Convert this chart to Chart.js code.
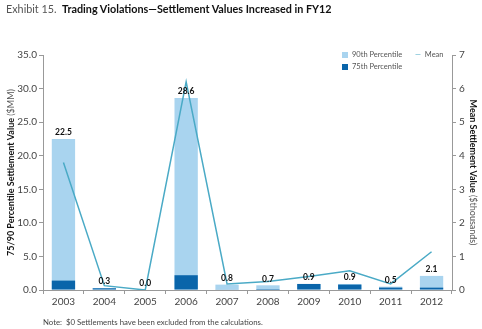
<!DOCTYPE html>
<html>
<head>
<meta charset="utf-8">
<script src="https://cdn.jsdelivr.net/npm/chart.js@4"></script>
<style>
  body { margin: 0; background: #fff; font-family: Lato, "Open Sans", sans-serif; }
  #wrap { position: relative; width: 482px; height: 329px; }
  #titulo { position: absolute; left: 6px; top: 2px; font-size: 10.8px; color: #555; white-space: nowrap; }
  #titulo b { color: #111; }
  .leg { position: absolute; font-size: 7.5px; color: #555; white-space: nowrap; line-height: 8px; }
  .sq { display: inline-block; width: 6px; height: 6px; vertical-align: -1px; margin-right: 4px; }
  #nota { position: absolute; left: 43px; top: 317px; font-size: 7.8px; color: #444; white-space: nowrap; }
</style>
</head>
<body>
<div id="wrap">
  <canvas id="grafico" width="482" height="329"></canvas>
  <div id="titulo">Exhibit 15.&nbsp; <b>Trading Violations—Settlement Values Increased in FY12</b></div>
  <div class="leg" style="left:342px;top:51px"><span class="sq" style="background:#a9d4ef"></span>90th Percentile</div>
  <div class="leg" style="left:415px;top:51px"><span style="color:#4aaac6">—</span>&nbsp; Mean</div>
  <div class="leg" style="left:342px;top:63px"><span class="sq" style="background:#0a65aa"></span>75th Percentile</div>
  <div id="nota">Note:&nbsp; $0 Settlements have been excluded from the calculations.</div>
</div>
<script>
// dados
const anos = ['2003', '2004', '2005', '2006', '2007', '2008', '2009', '2010', '2011', '2012'];
const percentil90 = [22.5, 0.3, 0.0, 28.6, 0.8, 0.7, 0.9, 0.9, 0.5, 2.1];
const percentil75 = [1.4, 0.25, 0.0, 2.2, 0.1, 0.15, 0.9, 0.8, 0.35, 0.35];
const media = [3.8, 0.13, 0.0, 6.2, 0.18, 0.25, 0.4, 0.57, 0.18, 1.14];

const corClaro = '#a9d4ef';
const corEscuro = '#0a65aa';
const corLinha = '#4aaac6';
const fonte = 'Lato, "Open Sans", sans-serif';

// desenha título rotacionado com parte em negrito
function tituloEixo(ctx, x, y, ang, negrito, normal) {
  ctx.save();
  ctx.translate(x, y);
  ctx.rotate(ang);
  ctx.textBaseline = 'middle';
  ctx.textAlign = 'left';
  ctx.font = 'bold 9px ' + fonte;
  const w1 = ctx.measureText(negrito).width;
  ctx.font = '9px ' + fonte;
  const w2 = ctx.measureText(normal).width;
  const x0 = -(w1 + w2) / 2;
  ctx.font = 'bold 9px ' + fonte;
  ctx.fillStyle = '#111';
  ctx.fillText(negrito, x0, 0);
  ctx.font = '9px ' + fonte;
  ctx.fillStyle = '#555';
  ctx.fillText(normal, x0 + w1, 0);
  ctx.restore();
}

// rótulos em cima das barras e títulos dos eixos
const pluginTextos = {
  id: 'textos',
  afterDatasetsDraw(chart) {
    const ctx = chart.ctx;
    const meta = chart.getDatasetMeta(2);
    ctx.save();
    ctx.font = 'bold 8.5px ' + fonte;
    ctx.fillStyle = '#111';
    ctx.textAlign = 'center';
    ctx.textBaseline = 'bottom';
    meta.data.forEach((bar, i) => {
      ctx.fillText(percentil90[i].toFixed(1), bar.x, bar.y - 2);
    });
    ctx.restore();

    const area = chart.chartArea;
    const cy = (area.top + area.bottom) / 2;
    tituloEixo(ctx, 11, cy, -Math.PI / 2, '75/90 Percentile Settlement Value ', '($MM)');
    tituloEixo(ctx, 473, cy, Math.PI / 2, 'Mean Settlement Value ', '($thousands)');
  }
};

const ctxGrafico = document.getElementById('grafico').getContext('2d');
new Chart(ctxGrafico, {
  type: 'bar',
  data: {
    labels: anos,
    datasets: [
      {
        type: 'line',
        label: 'Mean',
        data: media,
        yAxisID: 'y2',
        borderColor: corLinha,
        borderWidth: 1.5,
        pointRadius: 0,
        tension: 0,
        order: 0
      },
      {
        label: '75th Percentile',
        data: percentil75,
        backgroundColor: corEscuro,
        yAxisID: 'y',
        barPercentage: 0.57,
        categoryPercentage: 1,
        order: 1
      },
      {
        label: '90th Percentile',
        data: percentil90,
        backgroundColor: corClaro,
        yAxisID: 'y',
        barPercentage: 0.57,
        categoryPercentage: 1,
        order: 2
      }
    ]
  },
  options: {
    responsive: false,
    animation: false,
    layout: { padding: { top: 55, left: 0, right: 0, bottom: 19 } },
    plugins: {
      legend: { display: false },
      tooltip: { enabled: false }
    },
    scales: {
      x: {
        stacked: true,
        offset: true,
        border: { color: '#999' },
        grid: { offset: true, drawOnChartArea: false, tickLength: 4, color: '#999' },
        ticks: { color: '#444', font: { family: fonte, size: 10 }, padding: 2, maxRotation: 0 },
        afterFit: s => { s.height = 20; }
      },
      y: {
        position: 'left',
        min: 0,
        max: 35,
        border: { color: '#999' },
        grid: { drawOnChartArea: false, tickLength: 4, color: '#999' },
        ticks: {
          stepSize: 5,
          color: '#444',
          font: { family: fonte, size: 10 },
          padding: 2,
          callback: v => v.toFixed(1)
        },
        afterFit: s => { s.width = 43; }
      },
      y2: {
        position: 'right',
        min: 0,
        max: 7,
        border: { color: '#999' },
        grid: { drawOnChartArea: false, tickLength: 4, color: '#999' },
        ticks: { stepSize: 1, color: '#444', font: { family: fonte, size: 10 }, padding: 3 },
        afterFit: s => { s.width = 30; }
      }
    }
  },
  plugins: [pluginTextos]
});
</script>
</body>
</html>
